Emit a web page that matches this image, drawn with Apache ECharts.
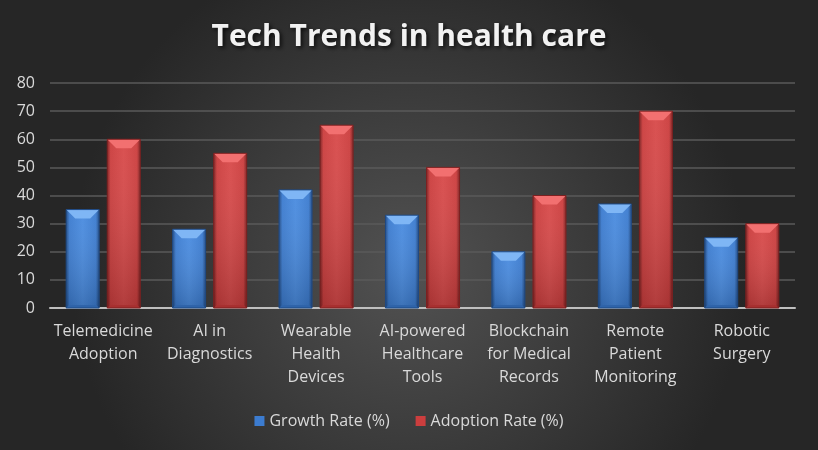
<!DOCTYPE html>
<html>
<head>
<meta charset="utf-8">
<script src="https://cdn.jsdelivr.net/npm/echarts@6/dist/echarts.min.js"></script>
<style>html,body{margin:0;padding:0;background:#333;}#c{width:818px;height:450px;}</style>
</head>
<body>
<div id="c"></div>
<script>
const categories = ['Telemedicine\nAdoption', 'AI in\nDiagnostics', 'Wearable\nHealth\nDevices', 'AI-powered\nHealthcare\nTools', 'Blockchain\nfor Medical\nRecords', 'Remote\nPatient\nMonitoring', 'Robotic\nSurgery'];
const growthRate = [35, 28, 42, 33, 20, 37, 25];
const adoptionRate = [60, 55, 65, 50, 40, 70, 30];
const yTicks = [0, 10, 20, 30, 40, 50, 60, 70, 80];

const palettes = {
  blue: {main: '#3c7cd0', light: '#4a8ce0', dark: '#1f4a85', top: '#7fb6f5', bottom: '#2f64aa'},
  red: {main: '#cc3e3e', light: '#d84a4a', dark: '#7d2020', top: '#f27070', bottom: '#a83030'}
};

function makeRender(pal, side) {
  return function (params, api) {
    const idx = api.value(0);
    const v = api.value(1);
    const base = api.coord([idx, 0]);
    const topPt = api.coord([idx, v]);
    const band = api.size([1, 0])[0];
    const w = band * 0.31;
    const cx = base[0] + side * band * 0.193;
    const x0 = cx - w / 2, x1 = cx + w / 2;
    const y0 = topPt[1], y1 = base[1];
    const b = 9;
    const s = 3;
    const grad = new echarts.graphic.LinearGradient(0, 0, 1, 0, [
      {offset: 0, color: pal.dark},
      {offset: 0.1, color: pal.main},
      {offset: 0.5, color: pal.light},
      {offset: 0.9, color: pal.main},
      {offset: 1, color: pal.dark}
    ]);
    const vgrad = new echarts.graphic.LinearGradient(0, 0, 0, 1, [
      {offset: 0, color: 'rgba(255,255,255,0.04)'},
      {offset: 1, color: 'rgba(0,0,0,0.18)'}
    ]);
    return {
      type: 'group',
      children: [
        {type: 'rect', shape: {x: x0, y: y0, width: w, height: y1 - y0}, style: {fill: grad}},
        {type: 'rect', shape: {x: x0, y: y0, width: w, height: y1 - y0}, style: {fill: vgrad}},
        {type: 'polygon', shape: {points: [[x0, y0], [x1, y0], [x1 - b, y0 + b], [x0 + b, y0 + b]]}, style: {fill: pal.top}},
        {type: 'polygon', shape: {points: [[x0, y1], [x1, y1], [x1 - s, y1 - s], [x0 + s, y1 - s]]}, style: {fill: pal.bottom}},
        {type: 'rect', shape: {x: x0, y: y0, width: w, height: y1 - y0}, style: {fill: 'none', stroke: pal.dark, lineWidth: 1}}
      ]
    };
  };
}

const chart = echarts.init(document.getElementById('c'));
chart.setOption({
  backgroundColor: new echarts.graphic.RadialGradient(0.5, 0.6, 0.75, [
    {offset: 0, color: '#525252'},
    {offset: 1, color: '#262626'}
  ]),
  title: {
    text: 'Tech Trends in health care',
    left: 'center', top: 17,
    textStyle: {
      color: '#f2f2f2', fontFamily: 'Open Sans', fontWeight: 'bold', fontSize: 30,
      textShadowColor: 'rgba(0,0,0,0.75)', textShadowBlur: 4, textShadowOffsetX: 2, textShadowOffsetY: 2
    }
  },
  legend: {
    bottom: 16, left: 'center', itemWidth: 10, itemHeight: 10, itemGap: 26,
    icon: 'rect',
    textStyle: {color: '#d9d9d9', fontFamily: 'Open Sans', fontSize: 16},
    data: [
      {name: 'Growth Rate (%)', itemStyle: {color: palettes.blue.main}},
      {name: 'Adoption Rate (%)', itemStyle: {color: palettes.red.main}}
    ]
  },
  grid: {left: 50, right: 23, top: 83, bottom: 142},
  xAxis: {
    type: 'category', data: categories,
    axisLine: {lineStyle: {color: '#bfbfbf', width: 2}},
    axisTick: {show: false},
    axisLabel: {color: '#d9d9d9', fontFamily: 'Open Sans', fontSize: 16, lineHeight: 23, margin: 12, interval: 0}
  },
  yAxis: {
    type: 'value', min: 0, max: 80, interval: 10,
    axisLine: {show: false}, axisTick: {show: false},
    splitLine: {lineStyle: {color: '#5a5a5a', width: 1.5}},
    axisLabel: {color: '#d9d9d9', fontFamily: 'Open Sans', fontSize: 16, margin: 15,
      formatter: function (v) { return yTicks.indexOf(v) >= 0 ? String(v) : ''; }}
  },
  series: [
    {name: 'Growth Rate (%)', type: 'custom', renderItem: makeRender(palettes.blue, -1),
      itemStyle: {color: palettes.blue.main},
      encode: {x: 0, y: 1}, data: growthRate.map((v, i) => [i, v])},
    {name: 'Adoption Rate (%)', type: 'custom', renderItem: makeRender(palettes.red, 1),
      itemStyle: {color: palettes.red.main},
      encode: {x: 0, y: 1}, data: adoptionRate.map((v, i) => [i, v])}
  ]
});
</script>
</body>
</html>
